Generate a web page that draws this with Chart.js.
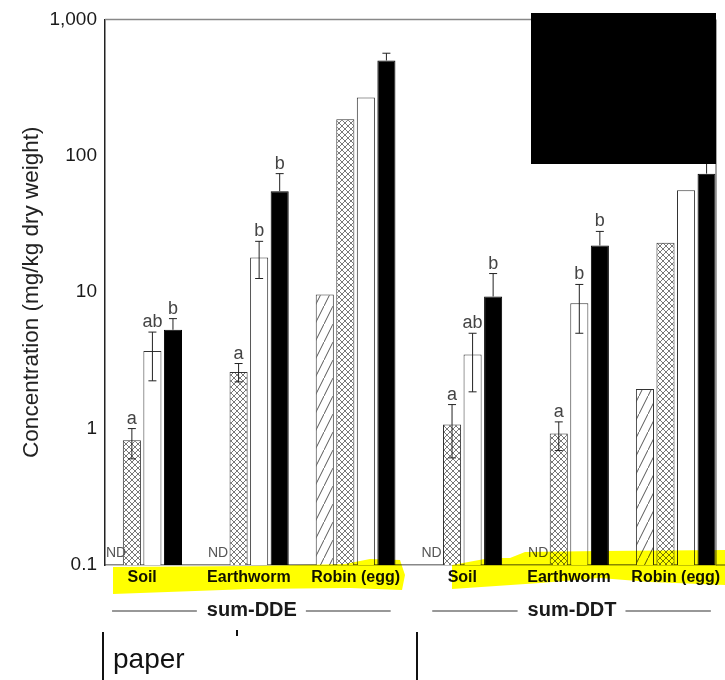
<!DOCTYPE html>
<html>
<head>
<meta charset="utf-8">
<title>sum-DDE / sum-DDT concentrations</title>
<script src="https://cdn.jsdelivr.net/npm/chart.js@4.4.1/dist/chart.umd.min.js"></script>
<style>
  body { margin: 0; background: #fff; }
  #chart { display: block; }
</style>
</head>
<body>
<canvas id="chart" width="725" height="680"></canvas>
<script>
// x categories, DDE groups first then DDT groups
const categories = ["Soil", "Earthworm", "Robin (egg)", "Soil", "Earthworm", "Robin (egg)"];
const compounds = ["sum-DDE", "sum-DDT"];

// bar heights in mg/kg dry weight (null = ND)
const hatchedVals = [null, null, 9.6, null, null, 1.95];
const crossVals = [0.82, 2.6, 185, 1.07, 0.92, 23];
const openVals = [3.7, 18, 268, 3.5, 8.3, 56];
const solidVals = [5.3, 55, 500, 9.3, 22, 74];

// error bar ends
const crossHigh = [1.0, 3.0, null, 1.5, 1.12, null];
const crossLow = [0.6, 2.2, null, 0.61, 0.69, null];
const openHigh = [5.1, 23.6, null, 5.0, 11.4, null];
const openLow = [2.24, 12.6, null, 1.86, 5.0, null];
const solidHigh = [6.4, 74, 565, 13.7, 27.9, 100];

// significance letters
const crossLetters = ["a", "a", "", "a", "a", ""];
const openLetters = ["ab", "b", "", "ab", "b", ""];
const solidLetters = ["b", "b", "", "b", "b", ""];

const yTicks = [0.1, 1, 10, 100, 1000];

const FONT = "'Liberation Sans', Arial, Helvetica, sans-serif";
Chart.defaults.font.family = FONT;

// category index -> x value (bars use the category index on a linear axis)
const toPoints = vals => vals.map((v, i) => ({ x: i, y: v }));

// PATTERNS
function makeHatch() {
  const c = document.createElement("canvas");
  c.width = 9; c.height = 18;
  const g = c.getContext("2d");
  g.fillStyle = "#fff";
  g.fillRect(0, 0, 9, 18);
  g.strokeStyle = "#444";
  g.lineWidth = 0.9;
  g.beginPath();
  g.moveTo(-1, 20);
  g.lineTo(10, -2);
  g.stroke();
  return g.createPattern(c, "repeat");
}

function makeCross() {
  const c = document.createElement("canvas");
  c.width = 6; c.height = 6;
  const g = c.getContext("2d");
  g.fillStyle = "#fff";
  g.fillRect(0, 0, 6, 6);
  g.strokeStyle = "#555";
  g.lineWidth = 0.8;
  g.beginPath();
  g.moveTo(0, 0); g.lineTo(6, 6);
  g.moveTo(0, 6); g.lineTo(6, 0);
  g.stroke();
  return g.createPattern(c, "repeat");
}

// error bars, letters and ND marks
const barExtras = {
  id: "barExtras",
  afterDatasetsDraw(chart) {
    const ctx = chart.ctx;
    const y = chart.scales.y;
    ctx.save();
    chart.data.datasets.forEach((ds, di) => {
      const meta = chart.getDatasetMeta(di);
      meta.data.forEach((bar, i) => {
        const v = ds.data[i].y;
        if (v == null) {
          if (ds.showND) {
            ctx.fillStyle = "#555";
            ctx.font = "14px " + FONT;
            ctx.textAlign = "left";
            ctx.textBaseline = "alphabetic";
            const tw = ctx.measureText("ND").width;
            ctx.fillText("ND", Math.max(bar.x - tw / 2, chart.chartArea.left + 1), chart.chartArea.bottom - 8);
          }
          return;
        }
        let top = bar.y;
        const hi = ds.errHigh ? ds.errHigh[i] : null;
        const lo = ds.errLow ? ds.errLow[i] : null;
        if (hi != null) {
          const yh = y.getPixelForValue(hi);
          const yl = lo != null ? y.getPixelForValue(lo) : bar.y;
          ctx.strokeStyle = "#222";
          ctx.lineWidth = 1;
          ctx.beginPath();
          ctx.moveTo(bar.x, yh); ctx.lineTo(bar.x, yl);
          ctx.moveTo(bar.x - 4, yh); ctx.lineTo(bar.x + 4, yh);
          if (lo != null) { ctx.moveTo(bar.x - 4, yl); ctx.lineTo(bar.x + 4, yl); }
          ctx.stroke();
          top = yh;
        }
        const letter = ds.letters ? ds.letters[i] : "";
        if (letter) {
          ctx.fillStyle = "#444";
          ctx.font = "18px " + FONT;
          ctx.textAlign = "center";
          ctx.textBaseline = "alphabetic";
          ctx.fillText(letter, bar.x, top - 5);
        }
      });
    });
    ctx.restore();
  }
};

// frame, group labels, highlighter, redaction
const decorations = {
  id: "decorations",
  beforeDraw(chart) {
    const ctx = chart.ctx;
    ctx.save();
    ctx.fillStyle = "#fff";
    ctx.fillRect(0, 0, chart.width, chart.height);
    ctx.restore();
  },
  afterDraw(chart) {
    const ctx = chart.ctx;
    const a = chart.chartArea;
    const x = chart.scales.x;
    ctx.save();

    // top and right frame, bottom axis runs to the edge
    ctx.strokeStyle = "#888";
    ctx.lineWidth = 1.5;
    ctx.beginPath();
    ctx.moveTo(a.left, a.top); ctx.lineTo(a.right, a.top);
    ctx.moveTo(a.right, a.top); ctx.lineTo(a.right, a.bottom);
    ctx.moveTo(a.right, a.bottom); ctx.lineTo(chart.width, a.bottom);
    ctx.stroke();

    // compound labels under the category labels
    const half = (x.getPixelForValue(1) - x.getPixelForValue(0)) * 0.385;
    ctx.font = "bold 20px " + FONT;
    ctx.textAlign = "center";
    ctx.textBaseline = "middle";
    compounds.forEach((name, k) => {
      const left = x.getPixelForValue(3 * k) - half;
      const right = x.getPixelForValue(3 * k + 2) + half;
      const mid = (left + right) / 2 + 3;
      const tw = ctx.measureText(name).width;
      ctx.fillStyle = "#1a1a1a";
      ctx.fillText(name, mid, 610);
      ctx.strokeStyle = "#777";
      ctx.lineWidth = 1.5;
      ctx.beginPath();
      ctx.moveTo(left + 11, 611); ctx.lineTo(mid - tw / 2 - 10, 611);
      ctx.moveTo(mid + tw / 2 + 9, 611); ctx.lineTo(right - 6, 611);
      ctx.stroke();
    });

    // yellow highlighter
    ctx.globalCompositeOperation = "multiply";
    ctx.fillStyle = "#ffff00";
    const marks = [
      [[113, 567], [250, 566], [345, 564], [370, 559], [400, 560], [405, 575], [402, 590], [350, 588], [250, 589], [113, 594]],
      [[452, 565], [490, 558], [510, 558], [525, 552], [600, 551], [725, 550], [725, 585], [650, 582], [600, 578], [540, 583], [452, 589]]
    ];
    marks.forEach(pts => {
      ctx.beginPath();
      pts.forEach((p, i) => i ? ctx.lineTo(p[0], p[1]) : ctx.moveTo(p[0], p[1]));
      ctx.closePath();
      ctx.fill();
    });
    ctx.globalCompositeOperation = "source-over";

    // redaction box
    ctx.fillStyle = "#000";
    ctx.fillRect(531, 13, 185, 151);

    // pasted "paper" fragment
    ctx.strokeStyle = "#111";
    ctx.lineWidth = 2;
    ctx.beginPath();
    ctx.moveTo(103, 632); ctx.lineTo(103, 680);
    ctx.moveTo(417, 632); ctx.lineTo(417, 680);
    ctx.moveTo(237, 630); ctx.lineTo(237, 636);
    ctx.stroke();
    ctx.fillStyle = "#111";
    ctx.font = "28px " + FONT;
    ctx.textAlign = "left";
    ctx.textBaseline = "alphabetic";
    ctx.fillText("paper", 113, 668);

    ctx.restore();
  }
};

const hatch = makeHatch();
const cross = makeCross();

new Chart(document.getElementById("chart"), {
  type: "bar",
  data: {
    datasets: [
      { label: "hatched", data: toPoints(hatchedVals), backgroundColor: hatch, borderColor: "#333", borderWidth: 1, showND: true },
      { label: "cross-hatched", data: toPoints(crossVals), backgroundColor: cross, borderColor: "#333", borderWidth: 1,
        errHigh: crossHigh, errLow: crossLow, letters: crossLetters },
      { label: "open", data: toPoints(openVals), backgroundColor: "#fff", borderColor: "#333", borderWidth: 1,
        errHigh: openHigh, errLow: openLow, letters: openLetters },
      { label: "solid", data: toPoints(solidVals), backgroundColor: "#000", borderColor: "#000", borderWidth: 1,
        errHigh: solidHigh, letters: solidLetters }
    ]
  },
  options: {
    responsive: false,
    animation: false,
    layout: { padding: { top: 16, right: 9, left: 0, bottom: 0 } },
    datasets: { bar: { categoryPercentage: 0.77, barPercentage: 0.88 } },
    plugins: { legend: { display: false }, tooltip: { enabled: false } },
    scales: {
      x: {
        type: "linear",
        offset: false,
        min: -0.348,
        max: 5.377,
        grid: { display: false, drawTicks: false, offset: false },
        border: { display: true, color: "#888", width: 1.5 },
        afterBuildTicks(scale) { scale.ticks = categories.map((c, i) => ({ value: i })); },
        ticks: {
          color: "#111",
          font: { size: 16, weight: "bold" },
          padding: 3,
          maxRotation: 0,
          autoSkip: false,
          callback: v => categories[v]
        },
        afterFit(scale) { scale.height = 115; }
      },
      y: {
        type: "logarithmic",
        min: 0.1,
        max: 1000,
        grid: { display: false, drawTicks: false },
        border: { display: true, color: "#222", width: 1.5 },
        afterBuildTicks(scale) { scale.ticks = yTicks.map(v => ({ value: v })); },
        ticks: {
          color: "#1a1a1a",
          font: { size: 19 },
          padding: 8,
          callback: v => Number(v).toLocaleString("en-US")
        },
        title: {
          display: true,
          text: "Concentration (mg/kg dry weight)",
          color: "#222",
          font: { size: 22.5 },
          padding: { top: 18, bottom: 0 }
        },
        afterFit(scale) { scale.width = 105; }
      }
    }
  },
  plugins: [decorations, barExtras]
});
</script>
</body>
</html>
